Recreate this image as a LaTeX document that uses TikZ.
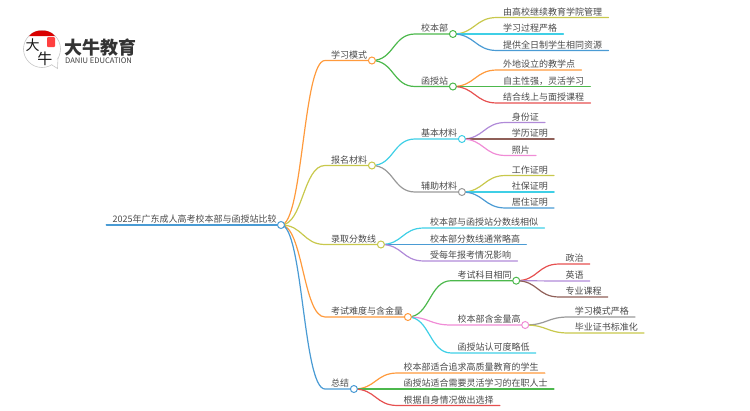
\documentclass[tikz,border=0pt]{standalone}
\usepackage{fontspec}
\setmainfont{Noto Sans CJK SC}
\pgfdeclarelayer{lines}
\pgfsetlayers{lines,main}
\definecolor{cBlue}{HTML}{4A9BD4}
\definecolor{cOrange}{HTML}{FF9A3C}
\definecolor{cOlive}{HTML}{C8C84C}
\definecolor{cCyan}{HTML}{3FCFE6}
\definecolor{cGreen}{HTML}{4CB84C}
\definecolor{cRed}{HTML}{E65050}
\definecolor{cPurple}{HTML}{B08AD8}
\definecolor{cBrown}{HTML}{8F5F58}
\definecolor{cPink}{HTML}{F08CD6}
\definecolor{cGray}{HTML}{999999}
\definecolor{cText}{HTML}{4A4A4A}
\tikzset{
  lbl/.style={anchor=south west,font=\fontsize{9}{11}\selectfont,text=cText,inner xsep=6pt,inner ysep=1pt,text height=8pt,text depth=1pt},
  dot/.style={circle,draw=#1,fill=white,line width=1pt,minimum size=7pt,inner sep=0pt},
  conn/.style={line width=1.2pt,draw=#1,line cap=round},
  scurve/.style={out=0,in=180,distance=22pt}
}
% \mbranch{name}{parent}{colour}{x}{y}{text}: label, underline, end circle
\newcommand{\mbranch}[6]{%
  \node[lbl] (#1t) at (#4,#5) {#6};
  \node[dot=#3] (#1) at ([xshift=-1.5pt]#1t.south east) {};
  \begin{pgfonlayer}{lines}
    \draw[conn=#3] (#2.center) to[scurve] (#1t.south west) -- (#1.center);
  \end{pgfonlayer}}
% \mleaf{name}{parent}{colour}{x}{y}{text}: label and underline only
\newcommand{\mleaf}[6]{%
  \node[lbl] (#1) at (#4,#5) {#6};
  \begin{pgfonlayer}{lines}
    \draw[conn=#3] (#2.center) to[scurve] (#1.south west) -- (#1.south east);
  \end{pgfonlayer}}
\begin{document}
\begin{tikzpicture}[x=1pt,y=-1pt]
\useasboundingbox (0,0) rectangle (750,410);
% logo
\path[fill=white,draw=black!22,line width=0.6pt]
  (42,49) circle[radius=18.5];
\path[fill=white,draw=black!22,line width=0.6pt]
  (52,65) -- (57.5,68.5) -- (58,58);
\path[fill=white] (51,63) -- (55,66) -- (57,58) -- cycle;
\path[fill=red!85!black] (29,36) .. controls (33,31.5) and (37,30.5) .. (42,30.5)
  .. controls (47,30.5) and (51,31.5) .. (55,36) -- cycle;
\node[fill=red!75!white,rounded corners=1pt,minimum width=8pt,minimum height=10pt,inner sep=0pt] (seal) at (51,42) {};
\node[inner sep=0pt,font=\fontsize{14}{14}\selectfont,text=black!90] (logoa) at (32.5,45.5) {大};
\node[inner sep=0pt,font=\fontsize{15}{15}\selectfont,text=black!90] (logob) at (45,58.5) {牛};
\node[anchor=west,inner sep=0pt,font=\fontsize{18}{18}\selectfont\bfseries,text=black!80] (logoc) at (64,47.5) {大牛教育};
\node[anchor=west,inner sep=0pt,font=\fontsize{7.6}{8}\selectfont,text=black!75] (logod) at (65,60.5) {DANIU EDUCATION};
% root
\node[lbl] (rootT) at (106.5,225) {2025年广东成人高考校本部与函授站比较};
\node[dot=cBlue] (root) at (281,225) {};
\begin{pgfonlayer}{lines}
  \draw[conn=cBlue,line width=2pt] (rootT.south west) -- (root.center);
\end{pgfonlayer}
% 学习模式
\mbranch{a}{root}{cOrange}{325}{60.5}{学习模式}
\mbranch{aa}{a}{cGreen}{415}{34}{校本部}
\mleaf{aa1}{aa}{cOlive}{497}{17.5}{由高校继续教育学院管理}
\mleaf{aa2}{aa}{cCyan}{497}{34}{学习过程严格}
\mleaf{aa3}{aa}{cBlue}{497}{50.5}{提供全日制学生相同资源}
\mbranch{ab}{a}{cGreen}{415}{86.5}{函授站}
\mleaf{ab1}{ab}{cOrange}{497}{70}{外地设立的教学点}
\mleaf{ab2}{ab}{cGreen}{497}{86.5}{自主性强，灵活学习}
\mleaf{ab3}{ab}{cRed}{497}{103}{结合线上与面授课程}
% 报名材料
\mbranch{b}{root}{cOlive}{325}{165.5}{报名材料}
\mbranch{ba}{b}{cCyan}{415}{139}{基本材料}
\mleaf{ba1}{ba}{cPurple}{505.7}{122.5}{身份证}
\mleaf{ba2}{ba}{cBrown}{505.7}{139}{学历证明}
\mleaf{ba3}{ba}{cPink}{505.7}{155.5}{照片}
\mbranch{bb}{b}{cGray}{415}{192}{辅助材料}
\mleaf{bb1}{bb}{cOlive}{505.7}{175.5}{工作证明}
\mleaf{bb2}{bb}{cCyan}{505.7}{192}{社保证明}
\mleaf{bb3}{bb}{cBlue}{505.7}{208}{居住证明}
% 录取分数线
\mbranch{c}{root}{cOlive}{325}{244.5}{录取分数线}
\mleaf{c1}{c}{cCyan}{424}{228}{校本部与函授站分数线相似}
\mleaf{c2}{c}{cBlue}{424}{244.5}{校本部分数线通常略高}
\mleaf{c3}{c}{cPurple}{424}{261}{受每年报考情况影响}
% 考试难度与含金量
\mbranch{d}{root}{cOrange}{325}{317}{考试难度与含金量}
\mbranch{da}{d}{cGreen}{451.3}{280.7}{考试科目相同}
\mleaf{da1}{da}{cRed}{559.3}{264}{政治}
\mleaf{da2}{da}{cPurple}{559.3}{281}{英语}
\mleaf{da3}{da}{cBrown}{559.3}{297}{专业课程}
\mbranch{db}{d}{cPink}{451.3}{325}{校本部含金量高}
\mleaf{db1}{db}{cGray}{568.7}{317}{学习模式严格}
\mleaf{db2}{db}{cOlive}{568.7}{333}{毕业证书标准化}
\mleaf{dc}{d}{cCyan}{451.3}{353}{函授站认可度略低}
% 总结
\mbranch{e}{root}{cBlue}{325}{389}{总结}
\mleaf{e1}{e}{cOrange}{397.5}{373}{校本部适合追求高质量教育的学生}
\mleaf{e2}{e}{cGreen}{397.5}{389}{函授站适合需要灵活学习的在职人士}
\mleaf{e3}{e}{cRed}{397.5}{405.5}{根据自身情况做出选择}
\end{tikzpicture}
\end{document}
